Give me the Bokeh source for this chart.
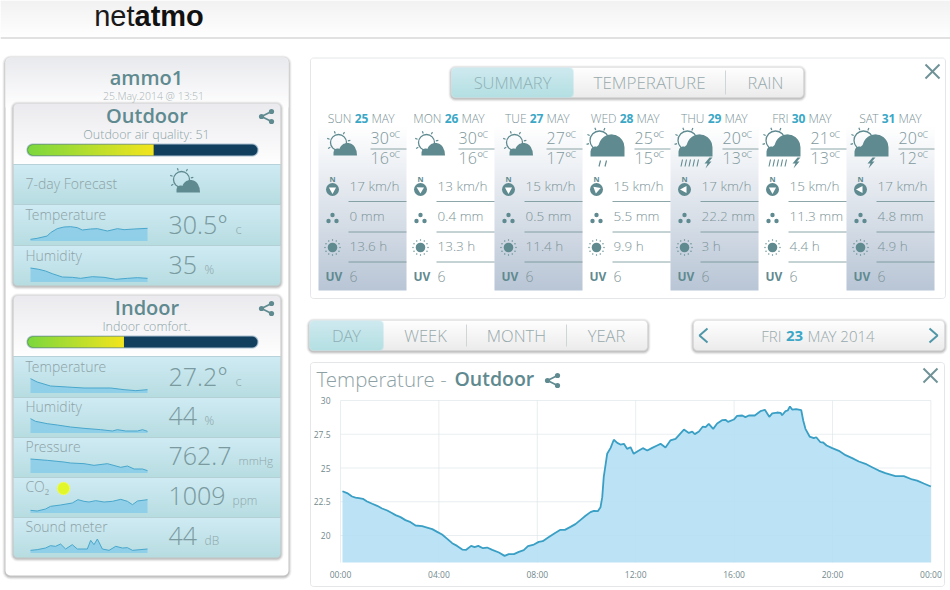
import numpy as np
from bokeh.plotting import figure
from bokeh.embed import file_html
from bokeh.resources import INLINE
from bokeh.models import Range1d, LinearAxis, FixedTicker
from bokeh.core.properties import value as fixed

# ---------- data ----------
hours = [0.08,0.27,0.47,0.61,0.75,0.91,1.08,1.29,1.49,1.69,1.90,2.07,2.24,2.44,2.64,2.85,3.05,3.32,3.52,3.73,3.93,4.13,4.34,4.54,4.74,4.95,5.11,5.31,5.45,5.60,5.79,5.96,6.17,6.44,6.67,6.84,7.05,7.25,7.45,7.62,7.86,8.06,8.22,8.47,8.74,8.94,9.12,9.35,9.55,9.76,9.96,10.16,10.30,10.46,10.57,10.64,10.70,10.84,10.98,11.11,11.25,11.38,11.52,11.65,11.79,11.92,
         12.13,12.29,12.47,12.67,12.87,13.01,13.21,13.41,13.62,13.96,14.16,14.30,14.40,14.57,14.73,14.84,14.97,15.15,15.31,15.51,15.65,15.75,15.99,16.12,16.33,16.46,16.60,16.84,17.07,17.25,17.43,17.55,17.75,17.89,17.95,18.09,18.18,18.27,18.36,18.52,18.73,18.81,18.90,19.07,19.24,19.34,19.51,19.62,19.76,19.99,20.26,20.53,20.80,21.07,21.34,21.61,21.88,22.15,22.56,22.90,23.24,23.44,23.71,24.0]
temps = [23.28,23.14,22.89,22.81,22.77,22.72,22.52,22.35,22.20,22.0,21.85,21.68,21.51,21.36,21.14,20.99,20.74,20.69,20.59,20.47,20.27,20.07,19.75,19.43,19.23,18.96,18.94,19.23,19.14,19.23,19.06,19.11,18.94,18.74,18.49,18.62,18.62,18.79,18.91,19.21,19.33,19.53,19.58,19.88,20.20,20.42,20.42,20.64,20.84,21.16,21.46,21.73,21.83,21.80,22.10,22.84,24.32,26.05,26.49,27.09,26.86,26.74,26.79,26.42,26.54,26.05,
         26.30,26.47,26.30,26.49,26.67,26.79,26.52,27.04,27.16,27.85,27.60,27.70,27.51,27.70,28.07,28.02,28.27,27.90,28.30,28.54,28.57,28.42,28.59,28.86,28.89,28.77,28.89,28.89,29.21,29.31,28.79,29.04,29.11,29.09,28.91,29.21,29.26,29.56,29.33,29.36,29.28,28.52,27.90,27.33,27.21,27.28,26.91,26.89,26.67,26.47,26.27,25.95,25.73,25.48,25.31,25.06,24.81,24.62,24.40,24.40,24.15,24.07,23.85,23.63]
temp_ticks = [20, 22.5, 25, 27.5, 30]
temp_labels = ["20", "22.5", "25", "27.5", "30"]
hour_ticks = [0, 4, 8, 12, 16, 20, 24]
hour_labels = ["00:00", "04:00", "08:00", "12:00", "16:00", "20:00", "00:00"]

days = ["SUN", "MON", "TUE", "WED", "THU", "FRI", "SAT"]
dates = [25, 26, 27, 28, 29, 30, 31]
temp_hi = [30, 30, 27, 25, 20, 21, 20]
temp_lo = [16, 16, 17, 15, 13, 13, 12]
wind = [17, 13, 15, 15, 17, 15, 17]
rain = ["0", "0.4", "0.5", "5.5", "22.2", "11.3", "4.8"]
sunshine = ["13.6", "13.3", "11.4", "9.9", "3", "4.4", "4.9"]
uv = [6, 6, 6, 6, 6, 6, 6]
wind_deg = [180, 300, 180, 70, 270, 180, 270]
sky = ["partly", "partly", "partly", "drizzle", "storm", "storm", "bolt"]

outdoor_quality = 51
indoor_comfort = 39
bar_max = 93

out_temp_x = [90,110,140,150,170,190,210,230,245,270,290,320,350,370,400,440]
out_temp_y = [5,8,15,25,37,42,43,40,33,36,37,30,37,34,36,38]
out_hum_x = [90,115,135,155,185,215,240,275,310,345,380,410,440]
out_hum_y = [42,38,33,25,15,14,11,16,14,8,11,13,11]
in_temp_x = [90,110,150,200,250,330,370,405,440]
in_temp_y = [43,33,21,18,15,15,10,7,10]
in_hum_x = [90,105,140,170,210,250,300,335,350,375,410,425,440]
in_hum_y = [43,35,28,24,18,14,10,6,10,6,6,10,5]
in_pres_x = [90,140,190,210,250,280,320,360,380,400,425,440]
in_pres_y = [42,38,33,30,28,23,28,17,21,12,12,7]
in_co2_x = [90,110,135,150,180,215,232,250,265,285,310,335,360,380,395,410,440]
in_co2_y = [8,6,12,20,24,30,40,35,33,37,33,35,41,35,25,36,40]
in_snd_x = [90,110,135,150,165,180,195,215,230,260,270,280,290,305,325,345,365,380,395,440]
in_snd_y = [8,10,15,22,20,27,12,25,12,12,38,25,42,12,8,20,15,16,8,12]

# ---------- figure ----------
W, H = 950, 590
p = figure(width=W, height=H, output_backend="svg", toolbar_location=None,
           x_range=Range1d(0, W), y_range=Range1d(H, 0),
           x_axis_type=None, y_axis_type=None, min_border=0,
           outline_line_color=None, background_fill_color="white")

LIGHT = "Open Sans Light"
REG = "Open Sans"
SEMI = "Open Sans SemiBold"
TEAL = "#5f8a90"
GRAY = "#8da3a7"

def hexrgb(c):
    return [int(c[i:i + 2], 16) for i in (1, 3, 5)]

def gradient(x0, y0, x1, y1, c0, c1, r=0, rb=None, horizontal=False, **kw):
    w, h = max(int(round(x1 - x0)), 1), max(int(round(y1 - y0)), 1)
    rb = r if rb is None else rb
    a, b = np.array(hexrgb(c0), float), np.array(hexrgb(c1), float)
    img = np.zeros((h, w, 4), dtype=np.uint8)
    for j in range(h):
        for i in range(w):
            t = (i + .5) / w if horizontal else (j + .5) / h
            rad = r if j < h / 2 else rb
            al = 255
            if rad > 0:
                dx = max(rad - i - .5, i + .5 - (w - rad), 0)
                dy = max(rad - j - .5, j + .5 - (h - rad), 0)
                d = np.hypot(dx, dy)
                al = int(np.clip(rad + .5 - d, 0, 1) * 255)
            img[j, i, :3] = a + (b - a) * t
            img[j, i, 3] = al
    return img

def packed(img):
    return img.view(np.uint32).reshape(img.shape[:2])

def grad(x0, y0, x1, y1, c0, c1, r=0, rb=None, horizontal=False):
    img = gradient(x0, y0, x1, y1, c0, c1, r, rb, horizontal)
    p.image_rgba(image=[packed(img)], x=x0, y=y0, dw=x1 - x0, dh=y1 - y0)

def rr_pts(x0, y0, x1, y1, r):
    if r <= 0:
        return [x0, x1, x1, x0], [y0, y0, y1, y1]
    t = np.linspace(0, np.pi / 2, 6)
    xs, ys = [], []
    for cx, cy, st in [(x1 - r, y0 + r, -np.pi / 2), (x1 - r, y1 - r, 0), (x0 + r, y1 - r, np.pi / 2), (x0 + r, y0 + r, np.pi)]:
        xs += list(cx + r * np.cos(t + st))
        ys += list(cy + r * np.sin(t + st))
    return xs, ys

def box(x0, y0, x1, y1, r=0, fill=None, alpha=1.0, line=None, lw=1):
    xs, ys = rr_pts(x0, y0, x1, y1, r)
    p.patch(xs, ys, fill_color=fill, fill_alpha=alpha if fill else 0,
            line_color=line, line_width=lw)

def shadow(x0, y0, x1, y1, r):
    for d, a in [(3, .05), (2, .08), (1, .12)]:
        box(x0 - d, y0 - d + 1, x1 + d, y1 + d + 1, r + d, fill="#000000", alpha=a)

def seg(x0, y0, x1, y1, color, lw=1, alpha=1.0):
    p.line([x0, x1], [y0, y1], line_color=color, line_width=lw, line_alpha=alpha)

texts = {}
def T(x, y, s, size, color=TEAL, align="left", font=LIGHT, style="normal"):
    k = (size, color, align, font, style)
    d = texts.setdefault(k, ([], [], []))
    d[0].append(x); d[1].append(y - 1); d[2].append(str(s))

def flush_text():
    for (size, color, align, font, style), (xs, ys, ss) in texts.items():
        p.text(x=xs, y=ys, text=ss, text_font_size=f"{size}px", text_color=color,
               text_align=align, text_baseline="middle", text_font=fixed(font),
               text_font_style=style)

def place(name, px0, px1, v0, v1, py0, py1, w0, w1):
    k = (v1 - v0) / (px1 - px0)
    p.extra_x_ranges[name] = Range1d(v0 - px0 * k, v0 + (W - px0) * k)
    m = (w1 - w0) / (py1 - py0)
    p.extra_y_ranges[name] = Range1d(w0 + (H - py0) * m, w0 - py0 * m)

def spark(name, xs, ys, base):
    # readings are in 3x pixels above the baseline of the little chart
    place(name, 30, 147, 90, 440, base, base - 15, 0, 45)
    p.varea(x=xs, y1=[0] * len(xs), y2=ys, fill_color="#86cbe8", fill_alpha=.8,
            x_range_name=name, y_range_name=name)
    p.line(x=xs, y=ys, line_color="#49a7cc", line_width=1,
           x_range_name=name, y_range_name=name)

def share(cx, cy, s=1.0, c=TEAL):
    pts = [(cx - 5 * s, cy), (cx + 5 * s, cy - 5 * s), (cx + 5 * s, cy + 5 * s)]
    seg(pts[0][0], pts[0][1], pts[1][0], pts[1][1], c, 1.6)
    seg(pts[0][0], pts[0][1], pts[2][0], pts[2][1], c, 1.6)
    p.circle([q[0] for q in pts], [q[1] for q in pts], radius=2.6 * s, fill_color=c, line_color=None)

def close_x(cx, cy, s=7):
    seg(cx - s, cy - s, cx + s, cy + s, "#6f9296", 2)
    seg(cx - s, cy + s, cx + s, cy - s, "#6f9296", 2)

def cloud(x0, x1, base, humps, color=TEAL):
    xs = np.linspace(x0, x1, 50)
    ys = np.full_like(xs, base)
    for cx, cy, r in humps:
        inside = np.abs(xs - cx) <= r
        ys[inside] = np.minimum(ys[inside], cy - np.sqrt(r * r - (xs[inside] - cx) ** 2))
    p.patch(list(xs) + [x1, x0], list(ys) + [base, base], fill_color=color, line_color=None)

def sun_rays(cx, cy, r, n=8, st=180, en=420):
    for a in np.radians(np.linspace(st, en, n)):
        seg(cx + (r + 1.5) * np.cos(a), cy + (r + 1.5) * np.sin(a),
            cx + (r + 4) * np.cos(a), cy + (r + 4) * np.sin(a), TEAL, 1.2)

def small_weather(cx, cy, big=False):
    sx, sy = cx - 5, cy - 3
    p.circle([sx], [sy], radius=8, fill_color="white", fill_alpha=0, line_color=TEAL, line_width=1.3)
    sun_rays(sx, sy, 8, 6, 150, 400)
    cloud(cx - 10, cx + 14, cy + 10, [(cx + 4, cy + 6, 8.5), (cx - 6, cy + 7, 4), (cx + 10, cy + 7, 3.5)])

def big_weather(cx, cy, kind):
    sx, sy = cx - 8, cy - 6
    p.circle([sx], [sy], radius=9.5, fill_color="white", fill_alpha=0, line_color=TEAL, line_width=1.3)
    sun_rays(sx, sy, 9.5, 7, 120, 380)
    base = cy + 10
    cloud(cx - 17, cx + 17, base, [(cx + 4, cy + 1, 13), (cx - 12, cy + 5, 5), (cx + 12, cy + 5, 5), (cx - 6, cy + 4, 6)])
    if kind == "drizzle":
        for dx in (-7, -1):
            seg(cx + dx, base + 4, cx + dx - 1.5, base + 10, TEAL, 1.2)
    if kind == "storm":
        for dx in (-13, -9, -5, -1, 3):
            seg(cx + dx, base + 3, cx + dx - 1.5, base + 10, TEAL, 1.1)
    if kind in ("storm", "bolt"):
        bx = cx + 13 if kind == "storm" else cx
        p.patch([bx + 1, bx - 4, bx - 1, bx - 3, bx + 3, bx + .5, bx + 4],
                [base + 1, base + 7, base + 7, base + 12, base + 5, base + 5, base + 1],
                fill_color=TEAL, line_color=None)

def compass(cx, cy, deg):
    T(cx, cy - 8, "N", 7.5, TEAL, "center", REG, "bold")
    p.circle([cx], [cy + 2], radius=6.5, fill_color=TEAL, line_color=None)
    a = np.radians(deg - 90)
    u = np.array([np.cos(a), np.sin(a)]); v = np.array([-u[1], u[0]])
    c = np.array([cx, cy + 2])
    tri = [c + u * 4.5, c - u * 2 + v * 3.6, c - u * 2 - v * 3.6]
    p.patch([q[0] for q in tri], [q[1] for q in tri], fill_color="white", line_color=None)

def rain_icon(cx, cy):
    p.circle([cx, cx - 4, cx + 4], [cy - 3, cy + 3, cy + 3], radius=2.2, fill_color=TEAL, line_color=None)

def sun_icon(cx, cy):
    p.circle([cx], [cy], radius=4.8, fill_color=TEAL, line_color=None)
    a = np.radians(np.arange(0, 360, 30))
    p.circle(list(cx + 7.5 * np.cos(a)), list(cy + 7.5 * np.sin(a)), radius=.7, fill_color=TEAL, line_color=None)

# ---------- header ----------
grad(0, 0, W, 37, "#f2f2f2", "#ffffff")
seg(0, 37.5, W, 37.5, "#c4c4c4", 1.2)
T(134, 16, "net", 29, "#1a1a1a", "right", "Liberation Sans")
T(134, 16, "atmo", 29, "#111111", "left", "Liberation Sans", "bold")

# ---------- left panel ----------
shadow(5, 57, 288, 575, 5)
box(5, 57, 288, 575, 5, fill="white")
grad(5, 57, 288, 107, "#e9eaee", "#ffffff", r=5, rb=0)
T(146, 78, "ammo1", 20, TEAL, "center", SEMI)
T(153, 96, "25.May.2014 @ 13:51", 10.5, "#a9b4b7", "center", LIGHT)

def card(y0, y1, head_end, title, sub, value, bar_name, rows_y):
    shadow(13, y0, 280, y1, 4)
    grad(13, y0, 280, head_end, "#ebebef", "#ffffff", r=4, rb=0)
    for i in range(len(rows_y) - 1):
        grad(13, rows_y[i], 280, rows_y[i + 1], "#d0ebf4", "#b7dde1", r=0,
             rb=4 if i == len(rows_y) - 2 else 0)
        seg(13, rows_y[i], 280, rows_y[i], "#aecdd4", .8)
    T(146.5, y0 + 13, title, 20, TEAL, "center", SEMI)
    T(146, y0 + 32, sub, 12.5, GRAY, "center", LIGHT)
    share(266, y0 + 13)
    by = y0 + 41
    box(26, by - 1, 258, by + 12, 6, fill="#a9bfd0")
    box(27, by, 257, by + 11, 5.5, fill="#123f5e")
    place(bar_name, 27, 257, 0, bar_max, by, by + 11, 0, 11)
    px = 27 + value * 230 / bar_max
    img = gradient(27, by, px, by + 11, "#7cd83e", "#f3e51e", r=0, horizontal=True)
    for j in range(img.shape[0]):
        for i in range(5):
            d = np.hypot(5.5 - i - .5, j + .5 - 5.5)
            img[j, i, 3] = int(np.clip(6 - d, 0, 1) * 255)
    p.image_rgba(image=[packed(img)], x=0, y=0, dw=value, dh=11, x_range_name=bar_name, y_range_name=bar_name)

card(103, 285, 164, "Outdoor", "Outdoor air quality: 51", outdoor_quality, "b1", [164, 204, 245, 285])
card(295, 557, 356, "Indoor", "Indoor comfort.", indoor_comfort, "b2", [356, 397, 437, 477, 517, 557])

T(25, 184, "7-day Forecast", 14, GRAY)
small_weather(186, 182)

def row(y, label, sparkname, xs, ys, val, unit, ux, usize=13):
    T(25, y + 10.5, label, 14, GRAY)
    spark(sparkname, xs, ys, y + 36.5)
    T(168, y + 20, val, 25, "#7a9a9f", "left", LIGHT)
    T(ux, y + 25, unit, usize, "#8fa6aa", "left", LIGHT)

row(204, "Temperature", "s1", out_temp_x, out_temp_y, "30.5°", "c", 235)
row(245, "Humidity", "s2", out_hum_x, out_hum_y, "35", "%", 204, 12)
row(356, "Temperature", "s3", in_temp_x, in_temp_y, "27.2°", "c", 235)
row(396, "Humidity", "s4", in_hum_x, in_hum_y, "44", "%", 204, 12)
row(436, "Pressure", "s5", in_pres_x, in_pres_y, "762.7", "mmHg", 238, 11.5)
row(476, "CO₂", "s6", in_co2_x, in_co2_y, "1009", "ppm", 232, 12)
row(516, "Sound meter", "s7", in_snd_x, in_snd_y, "44", "dB", 204, 12)
p.circle([63], [488], radius=6.2, fill_color="#e4f814", fill_alpha=.9, line_color="#eefa60", line_width=1)

# ---------- forecast panel ----------
box(310, 57.5, 945, 298, 3, fill="white", line="#e4e6e7")
close_x(932, 71, 7)
shadow(451, 67, 803, 97, 4)
grad(451, 67, 803, 97, "#ffffff", "#ececec", r=4)
grad(451, 67, 573, 97, "#cfeaf0", "#b4e0e3", r=4, rb=4)
seg(725, 70, 725, 94, "#cfd6d7", 1)
T(512, 82.5, "SUMMARY", 16.5, "#8fb0b5", "center", LIGHT)
T(649, 82.5, "TEMPERATURE", 17, "#97a9ac", "center", LIGHT)
T(765, 82.5, "RAIN", 16.5, "#97a9ac", "center", LIGHT)

num_x = [361, 451, 536, 626, 714, 798, 888]
for i in range(7):
    x0 = 318 + 88 * i
    if i % 2 == 0:
        grad(x0, 127, x0 + 88, 290, "#ffffff", "#b9c6d6")
for i in range(7):
    x0 = 318 + 88 * i
    T(num_x[i], 118.5, dates[i], 12, "#3ba7c6", "center", REG, "bold")
    T(num_x[i] - 10, 118.5, days[i], 12, "#7d9498", "right", LIGHT)
    T(num_x[i] + 10, 118.5, "MAY", 12, "#7d9498", "left", LIGHT)
    if sky[i] == "partly":
        small_weather(x0 + 25, 145)
    else:
        big_weather(x0 + 25, 146, sky[i])
    T(x0 + 52, 138, f"{temp_hi[i]}°", 16, "#829a9e")
    T(x0 + 76, 135, "C", 9, "#829a9e")
    T(x0 + 52, 158, f"{temp_lo[i]}°", 16, "#829a9e")
    T(x0 + 76, 155, "C", 9, "#829a9e")
    seg(x0 + 52, 148.5, x0 + 88, 148.5, "#6f8f93", .8)
    compass(x0 + 14, 187, wind_deg[i])
    T(x0 + 31, 186, f"{wind[i]} km/h", 13.5, "#7d9498")
    seg(x0 + 30, 201, x0 + 88, 201, "#6f8f93", .8)
    rain_icon(x0 + 14, 217.5)
    T(x0 + 31, 216.5, f"{rain[i]} mm", 13.5, "#7d9498")
    seg(x0 + 30, 231.5, x0 + 88, 231.5, "#6f8f93", .8)
    sun_icon(x0 + 14, 247)
    T(x0 + 31, 246, f"{sunshine[i]} h", 13.5, "#7d9498")
    seg(x0 + 30, 261.5, x0 + 88, 261.5, "#6f8f93", .8)
    T(x0 + 7, 277, "UV", 12, TEAL, "left", REG, "bold")
    T(x0 + 31, 277, uv[i], 14, "#7d9498")

# ---------- period tabs ----------
shadow(309, 320, 647, 350, 4)
grad(309, 320, 647, 350, "#ffffff", "#ececec", r=4)
grad(309, 320, 383, 350, "#cfeaf0", "#b4e0e3", r=4)
seg(466, 324, 466, 346, "#cfd6d7", 1)
seg(566, 324, 566, 346, "#cfd6d7", 1)
T(346, 335.5, "DAY", 16.5, "#8fb0b5", "center")
T(425, 335.5, "WEEK", 16.5, "#97a9ac", "center")
T(516, 335.5, "MONTH", 16.5, "#97a9ac", "center")
T(606, 335.5, "YEAR", 16.5, "#97a9ac", "center")
shadow(693, 320, 944, 350, 4)
grad(693, 320, 944, 350, "#ffffff", "#ececec", r=4)
for cx, d in ((703, -1), (933, 1)):
    p.line([cx - d * 4, cx + d * 4, cx - d * 4], [328, 335, 342], line_color="#4f97a8", line_width=2)
T(781, 336, "FRI", 15, "#97a9ac", "right")
T(794, 336, "23", 15, "#3ba7c6", "center", REG, "bold")
T(807, 336, "MAY 2014", 15, "#97a9ac", "left")

# ---------- main chart ----------
box(310, 362, 944, 586, 3, fill="white", line="#e4e6e7")
T(316, 379, "Temperature - ", 20.5, "#8da1a5")
T(454, 379, "Outdoor", 19.5, TEAL, "left", SEMI)
share(552, 380, 1.0)
close_x(930, 375, 7)

place("chart", 340, 930.4, 0, 24, 400, 535, 30, 20)
grid_kw = dict(x_range_name="chart", y_range_name="chart", line_color="#dfe7e9", line_width=1, line_alpha=.7)
p.segment(x0=[0] * 5, x1=[24] * 5, y0=temp_ticks, y1=temp_ticks, **grid_kw)
p.segment(x0=hour_ticks, x1=hour_ticks, y0=[18] * 7, y1=[30] * 7, **grid_kw)
p.varea(x=hours, y1=[18] * len(hours), y2=temps, fill_color="#b3def4", fill_alpha=.88,
        x_range_name="chart", y_range_name="chart")
p.line(x=hours, y=temps, line_color="#3a9fc4", line_width=1.8,
       x_range_name="chart", y_range_name="chart")

yaxis = LinearAxis(x_range_name="chart", y_range_name="chart", fixed_location=0,
                   ticker=FixedTicker(ticks=temp_ticks),
                   major_label_overrides=dict(zip(temp_ticks, temp_labels)),
                   major_tick_line_color=None, minor_tick_line_color=None, axis_line_color=None,
                   major_label_text_font=REG, major_label_text_font_size="8.5px",
                   major_label_text_color="#73898d", major_label_standoff=4)
p.add_layout(yaxis, "left")
xaxis = LinearAxis(x_range_name="chart", y_range_name="chart", fixed_location=18,
                   ticker=FixedTicker(ticks=hour_ticks),
                   major_label_overrides=dict(zip(hour_ticks[:-1], hour_labels[:-1])) | {24: hour_labels[-1]},
                   major_tick_line_color=None, minor_tick_line_color=None, axis_line_color=None,
                   major_label_text_font=REG, major_label_text_font_size="8.5px",
                   major_label_text_color="#73898d", major_label_standoff=0)
p.add_layout(xaxis, "below")

flush_text()
open("out.html", "w").write(file_html(p, INLINE))
